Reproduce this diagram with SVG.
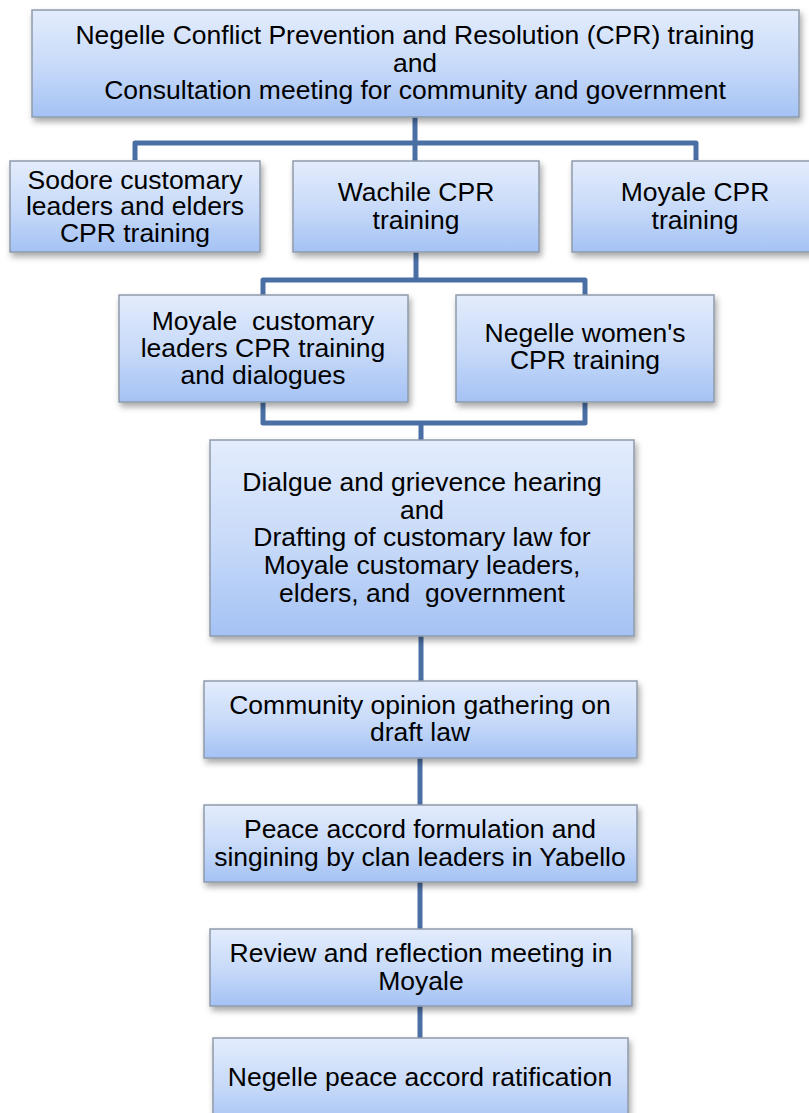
<svg xmlns="http://www.w3.org/2000/svg" width="809" height="1113" viewBox="0 0 809 1113">
<style>
.box{fill:url(#g);stroke:#8e9aab;stroke-width:1.5;filter:url(#sh)}
text{font-family:"Liberation Sans",Arial,sans-serif;font-size:26.5px;fill:#000;text-anchor:middle}
.c{fill:none;stroke:#4a6fa5;stroke-width:5;stroke-linejoin:round}
</style>
<defs>
<linearGradient id="g" x1="0" y1="0" x2="0" y2="1">
<stop offset="0" stop-color="#e3ecfc"/>
<stop offset="0.5" stop-color="#c9dbf9"/>
<stop offset="1" stop-color="#a4c2f4"/>
</linearGradient>
<filter id="sh" x="-10%" y="-10%" width="125%" height="135%">
<feDropShadow dx="2" dy="4" stdDeviation="3" flood-color="#000" flood-opacity="0.35"/>
</filter>
</defs>
<rect width="809" height="1113" fill="#fff"/>
<g id="connectors">
<path class="c" d="M415 117 V143 M135 160 V143 H696 V160 M415 143 V161"/>
<path class="c" d="M416 252 V280 M263 295 V280 H585 V295"/>
<path class="c" d="M263 402 V423 H585 V402 M421 423 V440"/>
<path class="c" d="M421 636 V682"/>
<path class="c" d="M420 758 V805"/>
<path class="c" d="M420 882 V929"/>
<path class="c" d="M420 1006 V1038"/>
</g>
<g id="n1"><rect class="box" x="32" y="10" width="767" height="107"/>
<text x="415" y="44">Negelle Conflict Prevention and Resolution (CPR) training</text>
<text x="415" y="72">and</text>
<text x="415" y="99">Consultation meeting for community and government</text></g>
<g id="n2"><rect class="box" x="10" y="161" width="250" height="91"/>
<text x="135" y="189">Sodore customary</text>
<text x="135" y="215">leaders and elders</text>
<text x="135" y="242">CPR training</text></g>
<g id="n3"><rect class="box" x="293" y="161" width="246" height="91"/>
<text x="416" y="201">Wachile CPR</text>
<text x="416" y="229">training</text></g>
<g id="n4"><rect class="box" x="572" y="161" width="246" height="91"/>
<text x="695" y="201">Moyale CPR</text>
<text x="695" y="229">training</text></g>
<g id="n5"><rect class="box" x="119" y="295" width="289" height="107"/>
<text x="263" y="330" xml:space="preserve">Moyale  customary</text>
<text x="263" y="357">leaders CPR training</text>
<text x="263" y="384">and dialogues</text></g>
<g id="n6"><rect class="box" x="456" y="295" width="258" height="107"/>
<text x="585" y="342">Negelle women's</text>
<text x="585" y="369">CPR training</text></g>
<g id="n7"><rect class="box" x="210" y="440" width="424" height="196"/>
<text x="422" y="491">Dialgue and grievence hearing</text>
<text x="422" y="519">and</text>
<text x="422" y="546">Drafting of customary law for</text>
<text x="422" y="574">Moyale customary leaders,</text>
<text x="422" y="602" xml:space="preserve">elders, and  government</text></g>
<g id="n8"><rect class="box" x="204" y="681" width="433" height="77"/>
<text x="420" y="714">Community opinion gathering on</text>
<text x="420" y="741">draft law</text></g>
<g id="n9"><rect class="box" x="204" y="805" width="433" height="77"/>
<text x="420" y="838">Peace accord formulation and</text>
<text x="420" y="866">singining by clan leaders in Yabello</text></g>
<g id="n10"><rect class="box" x="210" y="929" width="422" height="77"/>
<text x="421" y="962">Review and reflection meeting in</text>
<text x="421" y="990">Moyale</text></g>
<g id="n11"><rect class="box" x="213" y="1038" width="415" height="90"/>
<text x="420" y="1086">Negelle peace accord ratification</text></g>
</svg>
